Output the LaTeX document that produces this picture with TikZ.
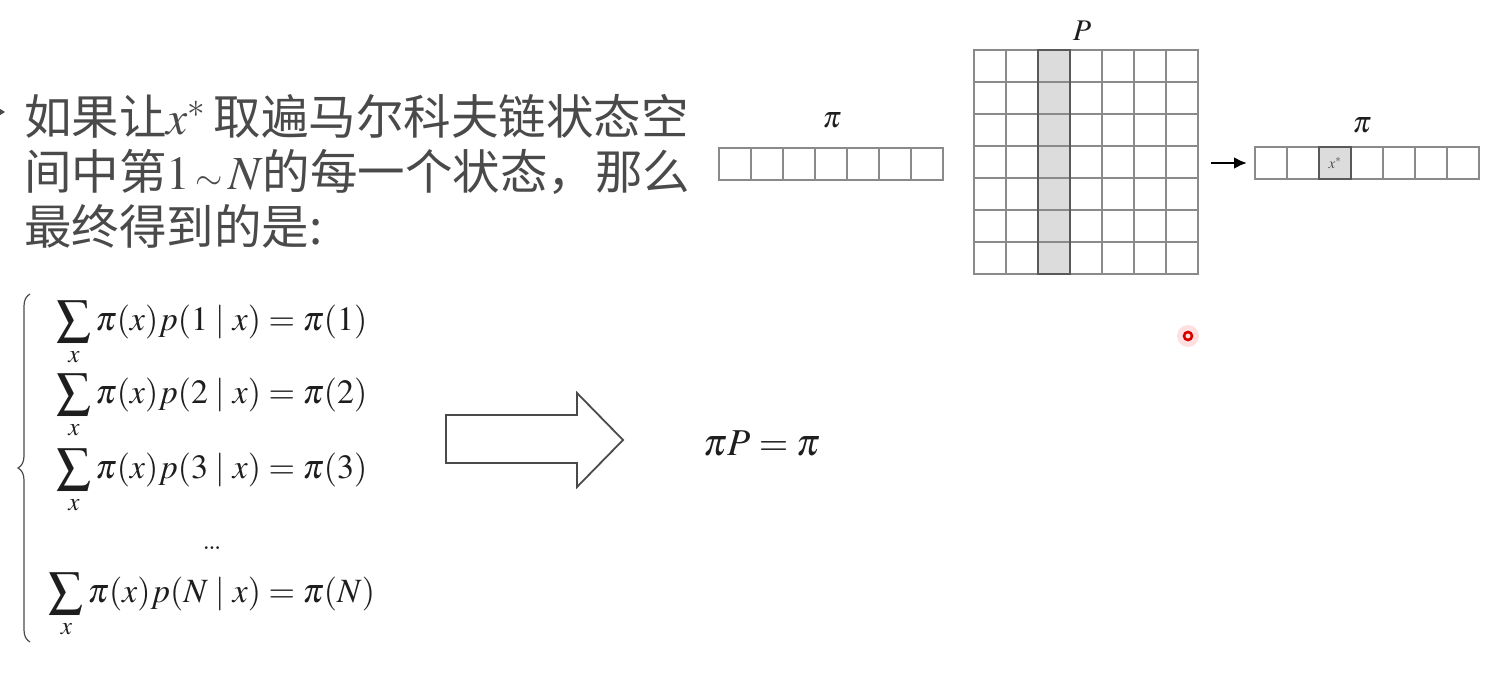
\documentclass[tikz,border=0pt]{standalone}
\usepackage{mathptmx}
\usepackage[no-math]{fontspec}
\newfontfamily\cjk{Noto Sans CJK SC}
\usetikzlibrary{decorations.pathreplacing,arrows.meta}
\definecolor{txtgray}{HTML}{4A4A4A}
\definecolor{eqblack}{HTML}{1E1E1E}
\definecolor{gridgray}{HTML}{8A8A8A}
\definecolor{shade}{HTML}{DCDCDC}

\tikzset{
	line/.style={txtgray, anchor=base west, inner sep=0, font=\cjk\fontsize{47.5}{55}\selectfont},
	eqn/.style={eqblack, anchor=base, inner sep=0, font=\fontsize{34}{34}\selectfont},
	cell/.style={draw=gridgray, line width=1.4pt, minimum size=32pt, inner sep=0, outer sep=0},
	marked/.style={cell, fill=shade},
	lbl/.style={eqblack, anchor=base, inner sep=0, font=\fontsize{30}{30}\selectfont},
	bigarrow/.style={draw=txtgray, line width=1.8pt, line join=miter}
}

\begin{document}
\begin{tikzpicture}[x=1pt,y=-1pt]
\useasboundingbox (0,0) rectangle (1498,676);

% bullet, cut by the page edge
\fill[txtgray] (-8,104) -- (5,112) -- (-8,120) -- cycle;
\node (line1) at (24,135) [line] {如果让$x^*$\,取遍马尔科夫链状态空};
\node (line2) at (24,190) [line] {间中第$1\,{\scriptstyle\sim}\,N$的每一个状态，那么};
\node (line3) at (24,245) [line] {最终得到的是:};

% pi times P
\foreach \i in {0,...,6}
	\node (pa\i) at (735+32*\i,164) [cell] {};
\node (pilabel) at (832,128) [lbl] {$\pi$};

\foreach \i/\st in {0/cell,1/cell,2/marked,3/cell,4/cell,5/cell,6/cell}
	\foreach \j in {0,...,6}
		\node (p\i\j) at (990+32*\i,66+32*\j) [\st] {};
\draw[draw=gray!70!black, line width=1.6pt] (p20.north west) rectangle (p26.south east);
\node (plabel) at (1082,41) [lbl] {$P$};

\foreach \i/\st in {0/cell,1/cell,2/marked,3/cell,4/cell,5/cell,6/cell}
	\node (pb\i) at (1271+32*\i,163) [\st] {};
\draw[draw=gray!70!black, line width=1.4pt] (pb2.north west) rectangle (pb2.south east);
\node (xstar) at (pb2) [gray!60!black, font=\fontsize{15}{15}\selectfont] {$x^*$};
\node (pilabel2) at (1362,133) [lbl] {$\pi$};

\coordinate (astart) at (1211,163);
\draw[-{Latex[length=13pt,width=12pt]}, line width=2.6pt, black] (astart) -- (pb0.west) [shorten >=8pt];

% the equations
\draw[decorate, decoration={brace, amplitude=12pt}, txtgray, line width=1.2pt] (30,642) -- (30,294);
\node (eq1) at (212,330) [eqn] {$\displaystyle\sum_x \pi(x)p(1\mid x)=\pi(1)$};
\node (eq2) at (212,403) [eqn] {$\displaystyle\sum_x \pi(x)p(2\mid x)=\pi(2)$};
\node (eq3) at (212,478) [eqn] {$\displaystyle\sum_x \pi(x)p(3\mid x)=\pi(3)$};
\node (dots) at (212,549) [eqn] {\dots};
\node (eqn) at (212,602) [eqn] {$\displaystyle\sum_x \pi(x)p(N\mid x)=\pi(N)$};

\draw[bigarrow] (446,415) -- (577,415) -- (577,393) -- (623,440) -- (577,487) -- (577,463) -- (446,463) -- cycle;
\node (result) at (762,455) [eqn, font=\fontsize{38}{38}\selectfont] {$\pi P=\pi$};

% red pointer
\fill[red!12] (1188,336) circle (11pt);
\draw[red!85!black, line width=2.6pt] (1188,336) circle (4pt);
\end{tikzpicture}
\end{document}
